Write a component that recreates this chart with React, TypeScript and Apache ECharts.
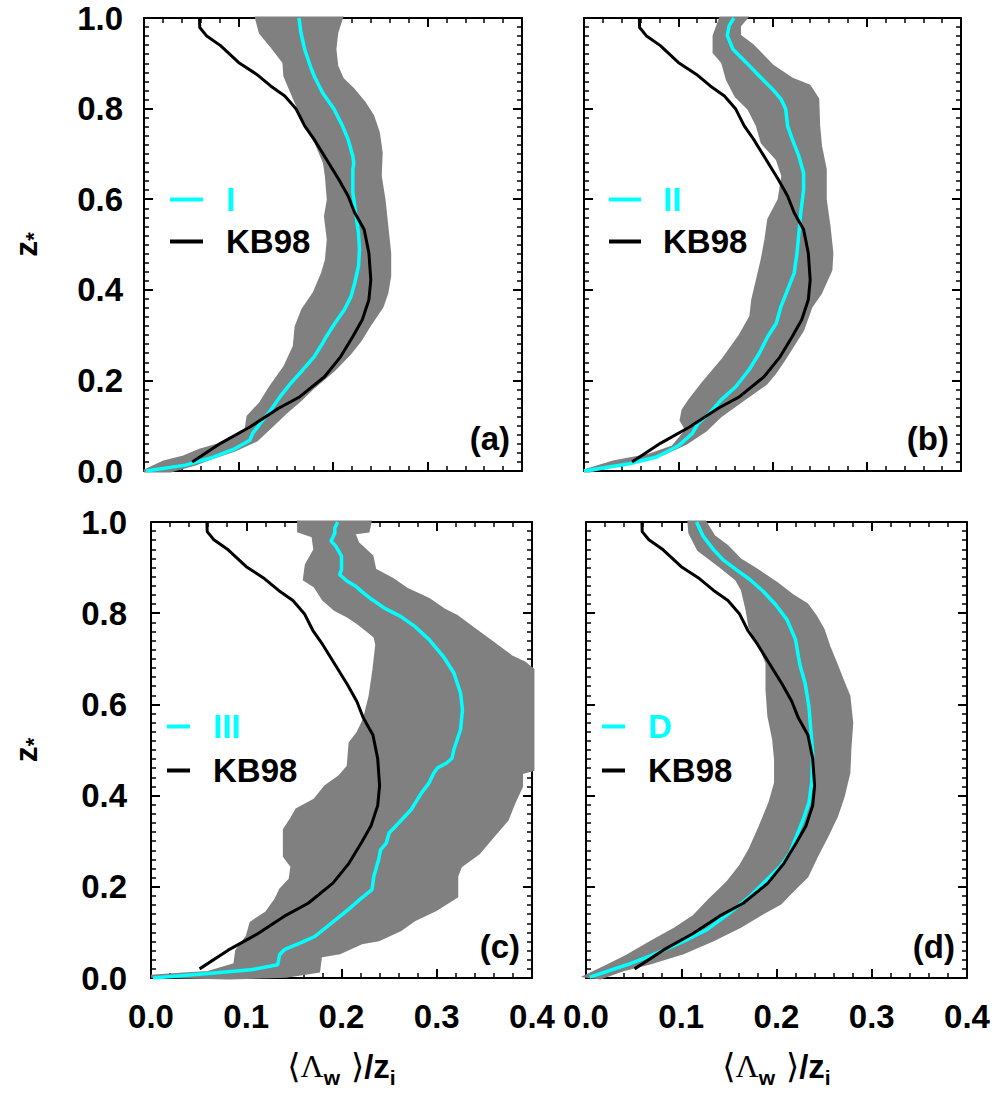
import React, { useEffect, useRef } from "react";
import * as echarts from "echarts";

// Reference curve KB98 (shared by all panels): [x, z*]
const kb98 = [
  [0.051, 0.02], [0.081, 0.061], [0.112, 0.097], [0.142, 0.138], [0.165, 0.164],
  [0.191, 0.208], [0.208, 0.252], [0.221, 0.297], [0.231, 0.334], [0.238, 0.378],
  [0.24, 0.422], [0.238, 0.481], [0.233, 0.533], [0.223, 0.57], [0.216, 0.607],
  [0.206, 0.644], [0.193, 0.688], [0.18, 0.732], [0.17, 0.762], [0.161, 0.799],
  [0.149, 0.828], [0.134, 0.85], [0.119, 0.876], [0.1, 0.902], [0.081, 0.939],
  [0.066, 0.961], [0.059, 0.979], [0.0587, 1.0],
];

// Panel (a): I
const profileI = [
  [0.002, 0.0], [0.044, 0.013], [0.074, 0.031], [0.096, 0.049], [0.112, 0.068], [0.115, 0.083],
  [0.123, 0.105], [0.134, 0.134], [0.144, 0.164], [0.155, 0.193], [0.168, 0.223], [0.18, 0.252],
  [0.189, 0.282], [0.193, 0.297], [0.202, 0.326], [0.212, 0.356], [0.219, 0.385], [0.223, 0.415],
  [0.227, 0.452], [0.228, 0.489], [0.227, 0.525], [0.224, 0.57], [0.221, 0.614], [0.221, 0.666],
  [0.222, 0.68], [0.221, 0.695], [0.216, 0.732], [0.21, 0.762], [0.201, 0.799], [0.189, 0.835],
  [0.18, 0.872], [0.176, 0.894], [0.17, 0.931], [0.166, 0.968], [0.164, 1.0],
];
const bandILeft = [
  [0.0, 0.0], [0.021, 0.02], [0.042, 0.031], [0.059, 0.046], [0.089, 0.064], [0.108, 0.09],
  [0.11, 0.12], [0.123, 0.149], [0.134, 0.186], [0.149, 0.23], [0.159, 0.275], [0.161, 0.319],
  [0.168, 0.356], [0.18, 0.393], [0.189, 0.437], [0.193, 0.466], [0.195, 0.511], [0.192, 0.562],
  [0.195, 0.599], [0.193, 0.651], [0.191, 0.68], [0.182, 0.725], [0.172, 0.762], [0.161, 0.813],
  [0.149, 0.872], [0.148, 0.902], [0.134, 0.94], [0.123, 0.968], [0.119, 1.0],
];
const bandIRight = [
  [0.028, 0.0], [0.055, 0.016], [0.074, 0.031], [0.096, 0.046], [0.119, 0.068], [0.138, 0.105],
  [0.149, 0.127], [0.165, 0.156], [0.18, 0.186], [0.201, 0.223], [0.218, 0.26], [0.229, 0.289],
  [0.24, 0.326], [0.252, 0.363], [0.257, 0.393], [0.26, 0.43], [0.26, 0.481], [0.257, 0.54],
  [0.254, 0.599], [0.25, 0.651], [0.251, 0.703], [0.248, 0.747], [0.242, 0.784], [0.233, 0.813],
  [0.221, 0.843], [0.21, 0.865], [0.204, 0.894], [0.202, 0.931], [0.204, 0.968], [0.209, 1.0],
];

// Panel (b): II
const profileII = [
  [0.0, 0.0], [0.048, 0.016], [0.077, 0.031], [0.101, 0.057], [0.115, 0.083], [0.121, 0.105],
  [0.133, 0.127], [0.145, 0.156], [0.161, 0.186], [0.175, 0.223], [0.186, 0.26], [0.195, 0.297],
  [0.204, 0.326], [0.209, 0.363], [0.216, 0.4], [0.223, 0.437], [0.226, 0.481], [0.228, 0.525],
  [0.23, 0.57], [0.233, 0.621], [0.233, 0.658], [0.228, 0.695], [0.221, 0.732], [0.216, 0.762],
  [0.214, 0.799], [0.209, 0.821], [0.2, 0.843], [0.186, 0.872], [0.172, 0.902], [0.158, 0.931],
  [0.152, 0.961], [0.154, 0.983], [0.159, 1.0],
];
const bandIILeft = [
  [0.0, 0.0], [0.031, 0.02], [0.069, 0.035], [0.094, 0.053], [0.109, 0.09], [0.103, 0.112],
  [0.105, 0.134], [0.112, 0.156], [0.126, 0.193], [0.147, 0.245], [0.165, 0.297], [0.177, 0.341],
  [0.179, 0.378], [0.184, 0.422], [0.189, 0.466], [0.193, 0.511], [0.196, 0.555], [0.207, 0.599],
  [0.211, 0.651], [0.205, 0.688], [0.189, 0.725], [0.184, 0.762], [0.175, 0.799], [0.161, 0.828],
  [0.152, 0.865], [0.147, 0.902], [0.138, 0.924], [0.138, 0.961], [0.145, 1.0],
];
const bandIIRight = [
  [0.006, 0.0], [0.034, 0.013], [0.059, 0.024], [0.084, 0.038], [0.108, 0.061], [0.129, 0.09],
  [0.144, 0.12], [0.168, 0.156], [0.193, 0.193], [0.202, 0.215], [0.212, 0.245], [0.221, 0.275],
  [0.232, 0.311], [0.241, 0.363], [0.251, 0.393], [0.262, 0.444], [0.263, 0.481], [0.26, 0.54],
  [0.256, 0.599], [0.256, 0.666], [0.251, 0.717], [0.249, 0.762], [0.248, 0.821], [0.239, 0.85],
  [0.221, 0.865], [0.2, 0.894], [0.179, 0.939], [0.165, 0.961], [0.165, 0.983], [0.172, 1.0],
];

// Panel (c): III
const profileIII = [
  [0.002, 0.0], [0.06, 0.01], [0.105, 0.018], [0.133, 0.029], [0.135, 0.051], [0.14, 0.062],
  [0.157, 0.077], [0.172, 0.091], [0.194, 0.128], [0.207, 0.15], [0.221, 0.175], [0.232, 0.194],
  [0.234, 0.223], [0.239, 0.26], [0.241, 0.281], [0.247, 0.296], [0.25, 0.318], [0.26, 0.34],
  [0.273, 0.369], [0.284, 0.406], [0.292, 0.428], [0.297, 0.45], [0.301, 0.461], [0.31, 0.471],
  [0.316, 0.482], [0.318, 0.501], [0.325, 0.545], [0.327, 0.588], [0.325, 0.625], [0.318, 0.669],
  [0.307, 0.705], [0.292, 0.742], [0.277, 0.771], [0.262, 0.793], [0.245, 0.811], [0.232, 0.83],
  [0.221, 0.848], [0.215, 0.859], [0.206, 0.87], [0.198, 0.885], [0.2, 0.895], [0.2, 0.925],
  [0.194, 0.947], [0.189, 0.958], [0.193, 0.976], [0.193, 0.987], [0.196, 1.0],
];
const bandIIILeft = [
  [0.0, 0.004], [0.03, 0.008], [0.06, 0.012], [0.088, 0.03], [0.09, 0.06], [0.101, 0.091],
  [0.105, 0.121], [0.121, 0.143], [0.131, 0.172], [0.136, 0.194], [0.146, 0.216], [0.148, 0.245],
  [0.14, 0.267], [0.14, 0.325], [0.148, 0.351], [0.153, 0.369], [0.172, 0.391], [0.183, 0.42],
  [0.198, 0.442], [0.207, 0.464], [0.209, 0.515], [0.217, 0.537], [0.224, 0.567], [0.23, 0.618],
  [0.234, 0.676], [0.237, 0.731], [0.235, 0.749], [0.226, 0.764], [0.217, 0.779], [0.207, 0.793],
  [0.193, 0.808], [0.181, 0.83], [0.172, 0.859], [0.161, 0.874], [0.163, 0.906], [0.172, 0.939],
  [0.17, 0.969], [0.155, 0.98], [0.155, 1.0],
];
const bandIIIRight = [
  [0.082, 0.0], [0.142, 0.004], [0.176, 0.015], [0.178, 0.048], [0.198, 0.055], [0.221, 0.077],
  [0.239, 0.084], [0.262, 0.106], [0.277, 0.128], [0.299, 0.15], [0.321, 0.179], [0.321, 0.223],
  [0.325, 0.245], [0.344, 0.274], [0.359, 0.311], [0.374, 0.347], [0.381, 0.384], [0.389, 0.42],
  [0.389, 0.45], [0.401, 0.457], [0.401, 0.676], [0.392, 0.691], [0.378, 0.705], [0.359, 0.735],
  [0.34, 0.764], [0.321, 0.793], [0.307, 0.808], [0.292, 0.83], [0.269, 0.852], [0.254, 0.874],
  [0.235, 0.895], [0.232, 0.925], [0.217, 0.954], [0.213, 0.976], [0.228, 0.98], [0.23, 1.0],
];

// Panel (d): D
const profileD = [
  [0.004, 0.002], [0.043, 0.029], [0.067, 0.048], [0.099, 0.077], [0.127, 0.106], [0.151, 0.143],
  [0.172, 0.179], [0.19, 0.216], [0.204, 0.245], [0.214, 0.274], [0.221, 0.311], [0.228, 0.347],
  [0.234, 0.384], [0.237, 0.428], [0.238, 0.493], [0.236, 0.545], [0.234, 0.596], [0.23, 0.647],
  [0.225, 0.683], [0.223, 0.705], [0.22, 0.742], [0.211, 0.786], [0.199, 0.819], [0.186, 0.848],
  [0.172, 0.874], [0.158, 0.895], [0.144, 0.917], [0.134, 0.939], [0.123, 0.969], [0.116, 1.0],
];
const bandDLeft = [
  [0.0, 0.004], [0.022, 0.026], [0.043, 0.048], [0.067, 0.077], [0.092, 0.106], [0.113, 0.135],
  [0.13, 0.172], [0.148, 0.208], [0.162, 0.245], [0.172, 0.281], [0.183, 0.333], [0.193, 0.384],
  [0.199, 0.428], [0.199, 0.479], [0.197, 0.523], [0.192, 0.574], [0.19, 0.632], [0.19, 0.691],
  [0.183, 0.727], [0.172, 0.771], [0.169, 0.808], [0.164, 0.852], [0.158, 0.874], [0.141, 0.903],
  [0.118, 0.939], [0.109, 0.976], [0.108, 1.0],
];
const bandDRight = [
  [0.015, 0.0], [0.039, 0.018], [0.067, 0.033], [0.102, 0.055], [0.134, 0.084], [0.162, 0.113],
  [0.186, 0.143], [0.204, 0.164], [0.218, 0.194], [0.232, 0.223], [0.242, 0.267], [0.253, 0.311],
  [0.263, 0.355], [0.27, 0.398], [0.276, 0.45], [0.277, 0.501], [0.279, 0.559], [0.276, 0.618],
  [0.269, 0.654], [0.262, 0.691], [0.255, 0.727], [0.249, 0.764], [0.241, 0.793], [0.232, 0.819],
  [0.218, 0.837], [0.2, 0.866], [0.179, 0.895], [0.162, 0.917], [0.148, 0.947], [0.134, 0.969],
  [0.125, 1.0],
];

const seriesNames = ["I", "II", "III", "D"];
const panelLetters = ["(a)", "(b)", "(c)", "(d)"];
const xTicks = [0, 0.1, 0.2, 0.3, 0.4];
const yTicks = [0, 0.2, 0.4, 0.6, 0.8, 1.0];

const profiles = [profileI, profileII, profileIII, profileD];
const bandsLeft = [bandILeft, bandIILeft, bandIIILeft, bandDLeft];
const bandsRight = [bandIRight, bandIIRight, bandIIIRight, bandDRight];

// Layout (pixels)
const GRIDS = [
  { left: 144, top: 18, width: 378, height: 453 },
  { left: 584, top: 18, width: 377, height: 453 },
  { left: 151, top: 522, width: 381, height: 456 },
  { left: 586, top: 522, width: 381, height: 456 },
];
const LEGENDS = [
  { left: 170, top: 183, itemWidth: 33, itemGap: 9, pad: 18 },
  { left: 609, top: 183, itemWidth: 32, itemGap: 9, pad: 17 },
  { left: 167, top: 710, itemWidth: 23, itemGap: 11, pad: 18 },
  { left: 602, top: 710, itemWidth: 23, itemGap: 11, pad: 18 },
];

const FONT = "'Liberation Sans', Arial, Helvetica, sans-serif";
const CYAN = "#00FFFF";
const GRAY = "#808080";

const fmt = (v: number) => v.toFixed(1);

function buildOption() {
  const grid: any[] = [];
  const xAxis: any[] = [];
  const yAxis: any[] = [];
  const series: any[] = [];
  const legend: any[] = [];
  const graphic: any[] = [];

  const lineStyle = { color: "#000", width: 2 };
  const tickStyle = { color: "#000", width: 2 };
  const minorStyle = { color: "#000", width: 1.5 };
  const labelStyle = {
    fontFamily: FONT,
    fontSize: 33,
    fontWeight: "bold",
    color: "#000",
    formatter: fmt,
  };

  for (let i = 0; i < 4; i++) {
    const g = GRIDS[i];
    grid.push({ ...g, containLabel: false, outerBoundsMode: "none" });
    const showXLabels = i >= 2;
    const showYLabels = i % 2 === 0;
    const xBase = {
      type: "value",
      gridIndex: i,
      min: xTicks[0],
      max: xTicks[xTicks.length - 1],
      interval: 0.1,
      axisLine: { show: true, onZero: false, lineStyle },
      axisTick: { show: true, inside: true, length: 9, lineStyle: tickStyle },
      minorTick: { show: true, splitNumber: 5, length: 5, lineStyle: minorStyle },
      splitLine: { show: false },
    };
    xAxis.push({
      ...xBase,
      position: "bottom",
      axisLabel: { show: showXLabels, margin: 22, ...labelStyle },
      name: showXLabels ? "{b|\u27E8}{g|\u039B}{s|w}{b| \u27E9}{m|/z}{s|i}" : "",
      nameLocation: "middle",
      nameGap: 66,
      nameTextStyle: {
        rich: {
          b: { fontFamily: "'DejaVu Sans', sans-serif", fontWeight: "normal", fontSize: 34, lineHeight: 44, verticalAlign: "middle", color: "#000" },
          g: { fontFamily: "'Liberation Serif', serif", fontWeight: "normal", fontSize: 32, lineHeight: 44, verticalAlign: "middle", color: "#000" },
          m: { fontFamily: FONT, fontWeight: "bold", fontSize: 33, lineHeight: 44, verticalAlign: "middle", color: "#000" },
          s: { fontFamily: FONT, fontWeight: "bold", fontSize: 21, lineHeight: 21, verticalAlign: "bottom", color: "#000" },
        },
      },
    });
    xAxis.push({ ...xBase, position: "top", axisLabel: { show: false } });

    const yBase = {
      type: "value",
      gridIndex: i,
      min: yTicks[0],
      max: yTicks[yTicks.length - 1],
      interval: 0.2,
      axisLine: { show: true, onZero: false, lineStyle },
      axisTick: { show: true, inside: true, length: 9, lineStyle: tickStyle },
      minorTick: { show: true, splitNumber: 10, length: 5, lineStyle: minorStyle },
      splitLine: { show: false },
    };
    yAxis.push({
      ...yBase,
      position: "left",
      axisLabel: { show: showYLabels, margin: i === 0 ? 21 : 24, ...labelStyle },
      name: showYLabels ? "{z|z}{s|*}" : "",
      nameLocation: "middle",
      nameRotate: 90,
      nameGap: i === 0 ? 100 : 107,
      nameTextStyle: {
        rich: {
          z: { fontFamily: FONT, fontWeight: "bold", fontSize: 32, lineHeight: 36, verticalAlign: "middle", color: "#000" },
          s: { fontFamily: FONT, fontWeight: "bold", fontSize: 22, lineHeight: 22, verticalAlign: "bottom", color: "#000" },
        },
      },
    });
    yAxis.push({ ...yBase, position: "right", axisLabel: { show: false } });

    const left = bandsLeft[i];
    const right = bandsRight[i];
    series.push({
      type: "custom",
      name: "band" + i,
      xAxisIndex: 2 * i,
      yAxisIndex: 2 * i,
      silent: true,
      clip: false,
      z: 1,
      data: [[0, 0]],
      renderItem: (_params: any, api: any) => {
        const pts = left.concat(right.slice().reverse()).map((p) => api.coord(p));
        return {
          type: "polygon",
          shape: { points: pts },
          style: { fill: GRAY, stroke: GRAY, lineWidth: 3, lineJoin: "miter" },
        };
      },
    });
    series.push({
      type: "line",
      name: seriesNames[i],
      xAxisIndex: 2 * i,
      yAxisIndex: 2 * i,
      data: profiles[i],
      showSymbol: false,
      symbol: "none",
      color: CYAN,
      lineStyle: { color: CYAN, width: 3.5 },
      z: 3,
    });
    series.push({
      type: "line",
      name: "KB98",
      xAxisIndex: 2 * i,
      yAxisIndex: 2 * i,
      data: kb98,
      showSymbol: false,
      symbol: "none",
      color: "#000",
      lineStyle: { color: "#000", width: 3 },
      z: 4,
    });

    const L = LEGENDS[i];
    legend.push({
      orient: "vertical",
      left: L.left,
      top: L.top,
      padding: 0,
      itemWidth: L.itemWidth,
      itemHeight: 4,
      itemGap: L.itemGap,
      icon: "rect",
      selectedMode: false,
      textStyle: {
        fontFamily: FONT,
        fontSize: 33,
        fontWeight: "bold",
        color: "#000",
        lineHeight: 33,
        padding: [0, 0, 0, L.pad],
      },
      data: [
        { name: seriesNames[i], itemStyle: { color: CYAN }, textStyle: { color: CYAN } },
        { name: "KB98", itemStyle: { color: "#000" } },
      ],
    });

    graphic.push({
      type: "text",
      x: g.left + g.width - 12,
      y: g.top + g.height - (i < 2 ? 33 : 32),
      style: {
        text: panelLetters[i],
        fontFamily: FONT,
        fontSize: 33,
        fontWeight: "bold",
        fill: "#000",
        align: "right",
        verticalAlign: "middle",
      },
      z: 10,
    });
  }

  return { animation: false, backgroundColor: "#fff", grid, xAxis, yAxis, series, legend, graphic };
}

export default function App() {
  const ref = useRef<HTMLDivElement>(null);
  useEffect(() => {
    if (!ref.current) return;
    const chart = echarts.init(ref.current, null, { renderer: "svg" });
    chart.setOption(buildOption() as any);
    return () => chart.dispose();
  }, []);
  return (
    <div
      ref={ref}
      style={{ position: "absolute", left: 0, top: 0, width: 996, height: 1093, background: "#fff" }}
    />
  );
}
